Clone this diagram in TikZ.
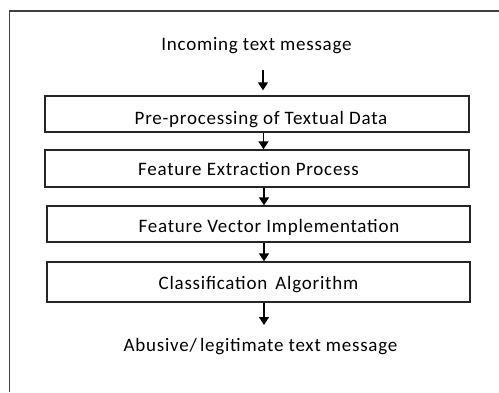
\documentclass[tikz,border=0pt]{standalone}
\usepackage{fontspec}
\setmainfont{Carlito}[LetterSpace=4]
\usetikzlibrary{arrows.meta}
\begin{document}
\begin{tikzpicture}[x=1pt,y=1pt,
  every node/.style={font=\fontsize{19}{21}\selectfont, text=black},
  box/.style={draw=black!85, line width=1.4pt, inner xsep=0pt, inner ysep=0pt, anchor=base},
  lbl/.style={anchor=base, inner sep=0pt},
  arr/.style={draw=black, line width=1.5pt, -{Triangle[length=8pt,width=10pt]}},
  frame/.style={draw=black!75, line width=1.4pt}]
\useasboundingbox (0,0) rectangle (499,-392);
\fill[white] (0,0) rectangle (499,-392);
\draw[frame] (9.5,-392) -- (9.5,-11) -- (499,-11);
\node[lbl] (in) at (256.5,-50.5) {Incoming text message};
\node[box, minimum width=424pt, text height=28pt, text depth=8pt] (b1) at (257,-124) {\hspace*{8pt}Pre-processing of Textual Data};
\node[box, minimum width=424pt, text height=25pt, text depth=12pt] (b2) at (257,-175) {\hspace*{-17pt}Feature Extraction Process};
\node[box, minimum width=423pt, text height=26pt, text depth=10pt] (b3) at (258.5,-232) {\hspace*{21pt}Feature Vector Implementation};
\node[box, minimum width=423pt, text height=27pt, text depth=13pt] (b4) at (258.5,-289) {Classification\, Algorithm};
\node[lbl] (out) at (260.5,-351.5) {Abusive/\,legitimate text message};
\coordinate (s1) at (263,-70);
\draw[arr, shorten >=5pt] (s1) -- (s1 |- b1.north);
\draw[arr] (b1.south -| 263.5,0) -- (b2.north -| 263.5,0);
\draw[arr] (b2.south -| 264,0) -- (b3.north -| 264,0);
\draw[arr] (b3.south -| 264,0) -- (b4.north -| 264,0);
\coordinate (e5) at (264,-325);
\draw[arr] (b4.south -| e5) -- (e5);
\end{tikzpicture}
\end{document}
